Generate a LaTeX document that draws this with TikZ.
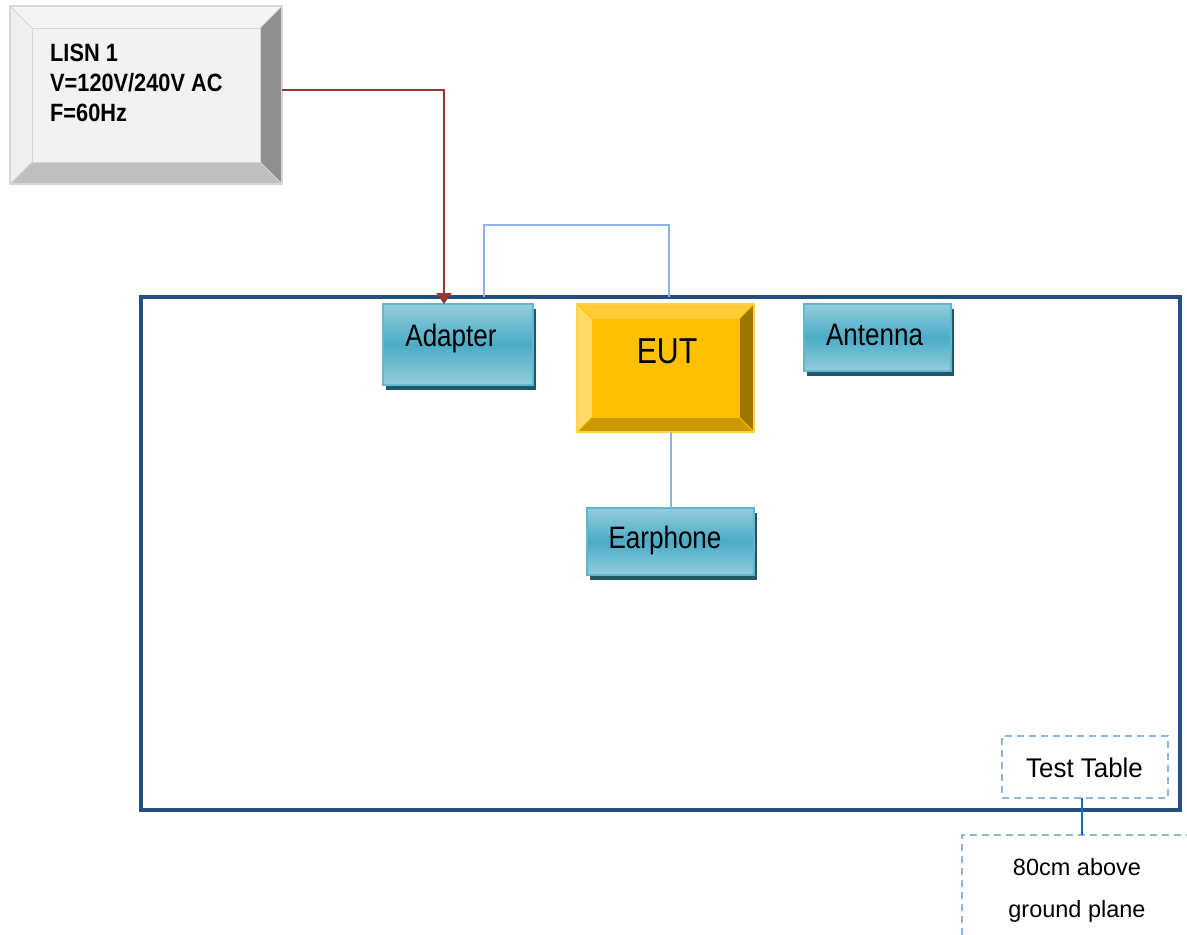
\documentclass[tikz,border=0pt]{standalone}
\usepackage{fontspec}
\setmainfont{Liberation Sans}
\newfontfamily\narrowfont[FakeStretch=0.84]{Liberation Sans}
\newfontfamily\lisnfont[FakeStretch=0.87]{Liberation Sans}
\newfontfamily\tablefont[FakeStretch=0.96]{Liberation Sans}
\usetikzlibrary{arrows.meta,shadows,calc}
\definecolor{tealtop}{HTML}{93CDDD}
\definecolor{tealmid}{HTML}{4BACC6}
\definecolor{tealborder}{HTML}{5FB8CE}
\definecolor{tealshadow}{HTML}{215868}
\definecolor{tableblue}{HTML}{254E80}
\definecolor{cableblue}{HTML}{8EB4E3}
\definecolor{linkblue}{HTML}{0070C0}
\definecolor{powerred}{HTML}{953735}
\definecolor{lisnface}{HTML}{F2F2F2}
\definecolor{lisntop}{HTML}{F4F4F4}
\definecolor{lisnleft}{HTML}{EFEFEF}
\definecolor{lisnright}{HTML}{8F8F8F}
\definecolor{lisnbottom}{HTML}{BFBFBF}
\definecolor{lisnborder}{HTML}{D6D6D6}
\definecolor{eutface}{HTML}{FFC000}
\definecolor{euttop}{HTML}{FFCD33}
\definecolor{eutleft}{HTML}{FFD966}
\definecolor{eutright}{HTML}{9C7700}
\definecolor{eutbottom}{HTML}{CC9A00}
\definecolor{eutborder}{HTML}{FFD24D}
\newcommand{\bevelbox}[8]{%
  \fill[#3] (#1.north west) -- (#1.north east) -- ($(#1.north east)+(-#2,#2)$) -- ($(#1.north west)+(#2,#2)$) -- cycle;
  \fill[#4] (#1.north west) -- ($(#1.north west)+(#2,#2)$) -- ($(#1.south west)+(#2,-#2)$) -- (#1.south west) -- cycle;
  \fill[#5] (#1.north east) -- (#1.south east) -- ($(#1.south east)+(-#2,-#2)$) -- ($(#1.north east)+(-#2,#2)$) -- cycle;
  \fill[#6] (#1.south west) -- ($(#1.south west)+(#2,-#2)$) -- ($(#1.south east)+(-#2,-#2)$) -- (#1.south east) -- cycle;
  \draw[#7, line width=1pt] ($(#1.north west)+(#2,#2)$) rectangle ($(#1.south east)+(-#2,-#2)$);
  \draw[#7, line width=0.8pt] (#1.north west) -- ($(#1.north west)+(#2,#2)$) (#1.north east) -- ($(#1.north east)+(-#2,#2)$)
     (#1.south west) -- ($(#1.south west)+(#2,-#2)$) (#1.south east) -- ($(#1.south east)+(-#2,-#2)$);
  \draw[#8, line width=1.5pt] (#1.north west) rectangle (#1.south east);
}
\begin{document}
\begin{tikzpicture}[x=1pt,y=-1pt,
  boxbase/.style={rectangle, anchor=north west, inner sep=0pt, outer sep=0pt},
  tealbox/.style={boxbase, draw=tealborder, line width=1.8pt, top color=tealtop, bottom color=tealtop, middle color=tealmid,
     drop shadow={shadow xshift=3pt, shadow yshift=-4.5pt, fill=tealshadow, opacity=1}},
  boxtext/.style={inner sep=0pt, anchor=base, font=\narrowfont\fontsize{31}{37}\selectfont},
  dashbox/.style={boxbase, draw=cableblue, line width=1.5pt, dash pattern=on 7pt off 5pt},
  bluecable/.style={draw=cableblue, line width=2pt},
  powercable/.style={draw=powerred, line width=2pt, -{Triangle[width=15pt,length=11pt]}}
]
\useasboundingbox (0,0) rectangle (1187,935);

% test table outline
\node[boxbase, draw=tableblue, line width=3.5pt, minimum width=1039pt, minimum height=513pt] (table) at (141,297) {};

% LISN
\node[boxbase, fill=lisnface, minimum width=272pt, minimum height=178pt] (lisn) at (10,6) {};
\bevelbox{lisn}{22}{lisntop}{lisnleft}{lisnright}{lisnbottom}{lisnborder}{lisnborder}
\node[inner sep=0pt, anchor=north west, align=left, font=\lisnfont\bfseries\fontsize{25}{30.2}\selectfont] (lisntext) at (50,43.5)
  {LISN 1\\V=120V/240V AC\\F=60Hz};

% EUT
\node[boxbase, fill=eutface, minimum width=177pt, minimum height=128pt] (eut) at (577,304) {};
\bevelbox{eut}{15}{euttop}{eutleft}{eutright}{eutbottom}{eutface}{eutborder}
\node[boxtext, font=\narrowfont\fontsize{36}{43}\selectfont] (euttext) at (667,363) {EUT};

% teal boxes
\node[tealbox, minimum width=150pt, minimum height=81pt] (adapter) at (383,304) {};
\node[boxtext] (adaptertext) at (451,346) {Adapter};
\node[tealbox, minimum width=147pt, minimum height=67pt] (antenna) at (804,304) {};
\node[boxtext] (antennatext) at (874.5,345) {Antenna};
\node[tealbox, minimum width=167pt, minimum height=67pt] (earphone) at (587,508) {};
\node[boxtext] (earphonetext) at (665,548.3) {Earphone};

% cables
\draw[powercable] ([yshift=5pt]lisn.east) -| ([xshift=-14pt]adapter.north);
\draw[bluecable] ([xshift=26pt]adapter.north |- table.north) -- ++(0,-72) -| ([xshift=3.5pt]eut.north |- table.north);
\draw[bluecable] (earphone.north |- eut.south) -- (earphone.north);

% labels
\node[dashbox, minimum width=166pt, minimum height=62pt] (testtable) at (1002,736) {};
\node[inner sep=0pt, anchor=base, font=\tablefont\fontsize{27}{32}\selectfont] (testtabletext) at (1084.5,777) {Test Table};
\begin{scope}
\clip (0,0) rectangle (1187,935);
\node[dashbox, minimum width=230pt, minimum height=107pt] (ground) at (962,835) {};
\end{scope}
\node[inner sep=0pt, anchor=base, font=\fontsize{23.5}{43}\selectfont] (groundtext1) at (1077,875) {80cm above};
\node[inner sep=0pt, anchor=base, font=\fontsize{23.5}{43}\selectfont] (groundtext2) at (1077,917) {ground plane};
\draw[draw=linkblue, line width=2pt] ([xshift=-3pt]testtable.south) -- ([xshift=-3pt]testtable.south |- ground.north);
\end{tikzpicture}
\end{document}
